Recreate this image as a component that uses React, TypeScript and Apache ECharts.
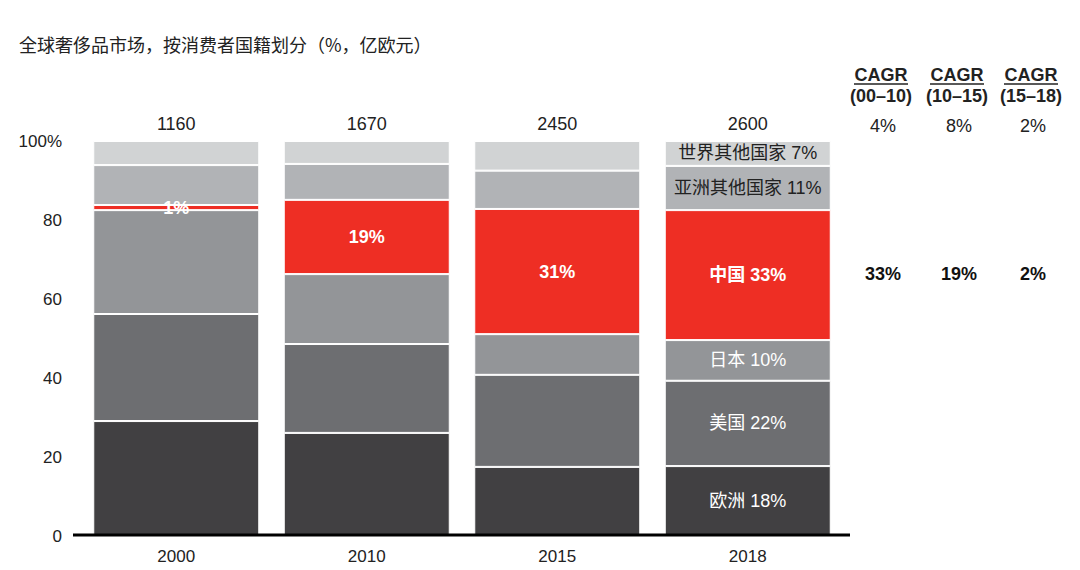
import React, { useEffect, useRef } from "react";
import * as echarts from "echarts";

const years = ["2000", "2010", "2015", "2018"];
const totals = ["1160", "1670", "2450", "2600"];
const yTicks = [0, 20, 40, 60, 80, 100];

const europe = [29.1, 26.1, 17.5, 17.7];
const usa = [27.1, 22.5, 23.3, 21.6];
const japan = [26.3, 17.7, 10.3, 10.3];
const china = [1.3, 18.8, 31.7, 32.9];
const otherAsia = [10.1, 9.1, 9.7, 11.2];
const restWorld = [6.1, 5.8, 7.5, 6.3];

const europeLabels = ["", "", "", "欧洲 18%"];
const usaLabels = ["", "", "", "美国 22%"];
const japanLabels = ["", "", "", "日本 10%"];
const chinaLabels = ["1%", "19%", "31%", "中国 33%"];
const otherAsiaLabels = ["", "", "", "亚洲其他国家 11%"];
const restWorldLabels = ["", "", "", "世界其他国家 7%"];

const cagrHeaders = ["(00–10)", "(10–15)", "(15–18)"];
const cagrTotal = ["4%", "8%", "2%"];
const cagrChina = ["33%", "19%", "2%"];

const FONT = "'Liberation Sans', Arial, 'Noto Sans CJK SC', sans-serif";

export default function App() {
  const ref = useRef<HTMLDivElement>(null);
  useEffect(() => {
    if (!ref.current) return;
    const chart = echarts.init(ref.current, undefined, { renderer: "svg" });

    const mk = (
      name: string,
      values: number[],
      labels: string[],
      color: string,
      labelColor: string,
      bold: boolean
    ) => ({
      name,
      type: "bar",
      stack: "all",
      barWidth: 166,
      itemStyle: { color, borderColor: "#ffffff", borderWidth: 1 },
      label: {
        show: true,
        position: "inside",
        color: labelColor,
        fontSize: 18,
        fontWeight: bold ? "bold" : "normal",
        fontFamily: FONT,
      },
      data: values.map((v, i) => ({
        value: v,
        label: { show: labels[i] !== "", formatter: labels[i] },
      })),
    });

    const colX = [881, 957, 1031];
    const graphics: any[] = [
      {
        type: "line",
        shape: { x1: 73, y1: 535, x2: 850, y2: 535 },
        style: { stroke: "#000", lineWidth: 3 },
        z: 100,
      },
    ];
    colX.forEach((x, i) => {
      graphics.push({
        type: "text",
        x,
        y: 75,
        style: {
          text: "CAGR",
          fill: "#222",
          font: `bold 18px ${FONT}`,
          textAlign: "center",
          textVerticalAlign: "middle",
        },
      });
      graphics.push({
        type: "line",
        shape: { x1: x - 27, y1: 84, x2: x + 27, y2: 84 },
        style: { stroke: "#222", lineWidth: 1.5 },
      });
      graphics.push({
        type: "text",
        x,
        y: 96,
        style: {
          text: cagrHeaders[i],
          fill: "#222",
          font: `bold 18px ${FONT}`,
          textAlign: "center",
          textVerticalAlign: "middle",
        },
      });
      graphics.push({
        type: "text",
        x: x + 2,
        y: 126,
        style: {
          text: cagrTotal[i],
          fill: "#222",
          font: `18px ${FONT}`,
          textAlign: "center",
          textVerticalAlign: "middle",
        },
      });
      graphics.push({
        type: "text",
        x: x + 2,
        y: 274,
        style: {
          text: cagrChina[i],
          fill: "#111",
          font: `bold 18px ${FONT}`,
          textAlign: "center",
          textVerticalAlign: "middle",
        },
      });
    });

    chart.setOption({
      animation: false,
      textStyle: { fontFamily: FONT },
      title: {
        text: "全球奢侈品市场，按消费者国籍划分（%，亿欧元）",
        left: 14,
        top: 30,
        textStyle: {
          fontSize: 18,
          fontWeight: "normal",
          color: "#222",
          fontFamily: "'Noto Sans CJK SC', sans-serif",
        },
      },
      grid: { left: 81, right: 237, top: 141, bottom: 34 },
      xAxis: [
        {
          type: "category",
          data: years,
          axisLine: { show: false },
          axisTick: { show: false },
          axisLabel: { color: "#222", fontSize: 17, margin: 12, fontFamily: FONT },
        },
        {
          type: "category",
          position: "top",
          data: totals,
          axisLine: { show: false },
          axisTick: { show: false },
          axisLabel: { color: "#222", fontSize: 18, margin: 8, fontFamily: FONT },
        },
      ],
      yAxis: {
        type: "value",
        min: yTicks[0],
        max: yTicks[yTicks.length - 1],
        interval: 20,
        axisLine: { show: false },
        axisTick: { show: false },
        splitLine: { show: false },
        axisLabel: {
          color: "#222",
          fontSize: 17,
          margin: 19,
          fontFamily: FONT,
          formatter: (v: number) => (v === 100 ? "100%" : String(v)),
        },
      },
      series: [
        mk("欧洲", europe, europeLabels, "#414042", "#ffffff", false),
        mk("美国", usa, usaLabels, "#6d6e71", "#ffffff", false),
        mk("日本", japan, japanLabels, "#939598", "#ffffff", false),
        mk("中国", china, chinaLabels, "#ee2e24", "#ffffff", true),
        mk("亚洲其他国家", otherAsia, otherAsiaLabels, "#b1b3b6", "#222222", false),
        mk("世界其他国家", restWorld, restWorldLabels, "#d1d3d4", "#222222", false),
      ],
      graphic: graphics,
    });
    return () => chart.dispose();
  }, []);
  return (
    <div
      ref={ref}
      style={{ position: "fixed", left: 0, top: 0, width: 1080, height: 570, background: "#fff" }}
    />
  );
}
